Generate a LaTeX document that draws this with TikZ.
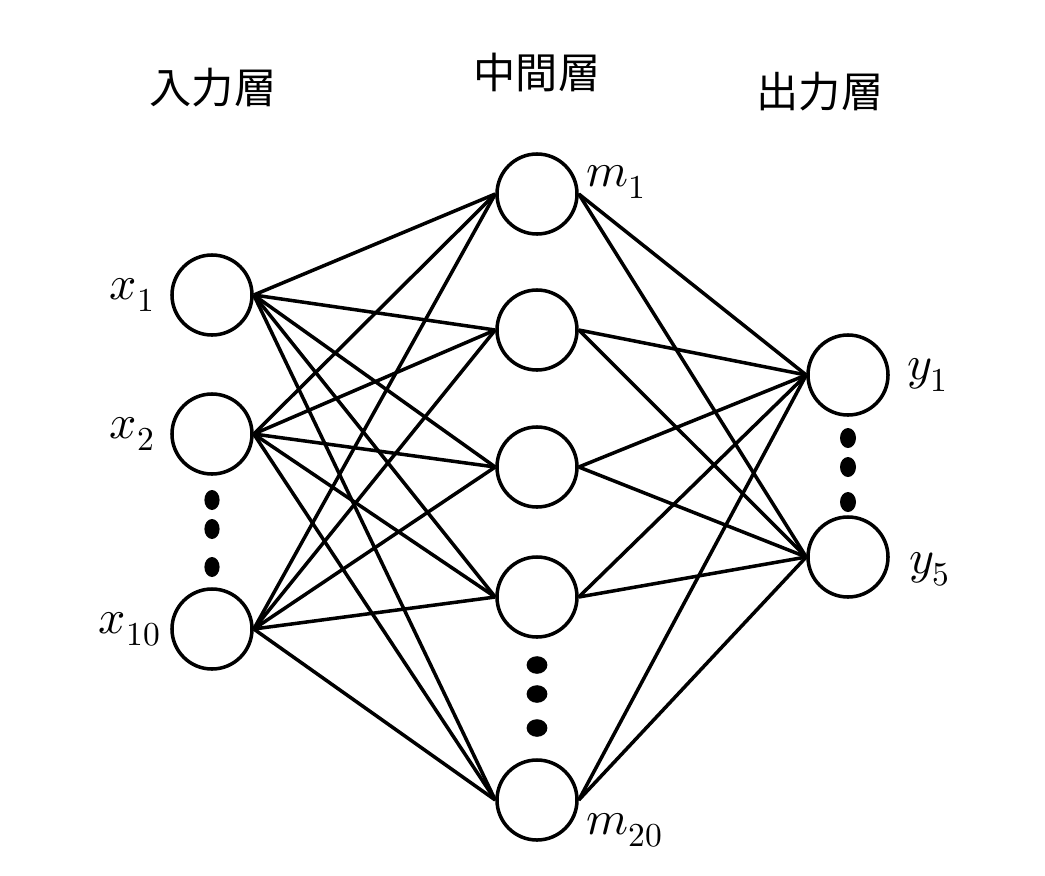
\documentclass[tikz,border=0pt]{standalone}
\usepackage{fontspec}
\usepackage{unicode-math}
\setmathfont{Latin Modern Math}
\usepackage{tikz}
\usetikzlibrary{positioning}
\newfontfamily\cjk{Noto Sans CJK JP}

\begin{document}
\begin{tikzpicture}[x=0.025cm, y=-0.025cm, line width=2.5pt,
    neuron/.style={circle, draw, minimum size=2.0cm, inner sep=0pt},
    layername/.style={font=\cjk\fontsize{30}{34}\selectfont},
    varname/.style={font=\fontsize{34}{38}\selectfont, inner sep=0pt}]
    \useasboundingbox (0,0) rectangle (1045,875);

    % layers
    \node (x1) [neuron] at (212,295) {};
    \node (x2) [neuron] at (212,434) {};
    \node (x10) [neuron] at (212,629) {};
    \node (m1) [neuron] at (537,194) {};
    \node (m2) [neuron] at (537,330) {};
    \node (m3) [neuron] at (537,467) {};
    \node (m4) [neuron] at (537,597) {};
    \node (m20) [neuron] at (537,800) {};
    \node (y1) [neuron] at (848,375) {};
    \node (y5) [neuron] at (848,557) {};

    \node (tin) [layername] at (213,88) {入力層};
    \node (tmid) [layername] at (537,72) {中間層};
    \node (tout) [layername] at (820,92) {出力層};

    \node (lx1) [varname, left=0.35cm of x1] {$x_1$};
    \node (lx2) [varname, left=0.35cm of x2] {$x_2$};
    \node (lx10) [varname, left=0.2cm of x10] {$x_{10}$};
    \node (lm1) [varname, right=0.15cm of m1.east, yshift=0.3cm] {$m_1$};
    \node (lm20) [varname, right=0.15cm of m20.east, yshift=-0.75cm] {$m_{20}$};
    \node (ly1) [varname, right=0.4cm of y1] {$y_1$};
    \node (ly5) [varname, right=0.45cm of y5, yshift=-0.3cm] {$y_5$};

    % connections
    \foreach \i in {x1,x2,x10}
        \foreach \j in {m1,m2,m3,m4,m20}
            \draw (\i.east) -- (\j.west);
    \foreach \j in {m1,m2,m3,m4,m20}
        \foreach \k in {y1,y5}
            \draw (\j.east) -- (\k.west);

    % dots
    \foreach \y in {500,529,567}
        \fill (212,\y) ellipse [x radius=0.19cm, y radius=0.25cm];
    \foreach \y in {665,694,728}
        \fill (537,\y) ellipse [x radius=0.26cm, y radius=0.22cm];
    \foreach \y in {438,467,502}
        \fill (848,\y) ellipse [x radius=0.2cm, y radius=0.25cm];
\end{tikzpicture}
\end{document}
